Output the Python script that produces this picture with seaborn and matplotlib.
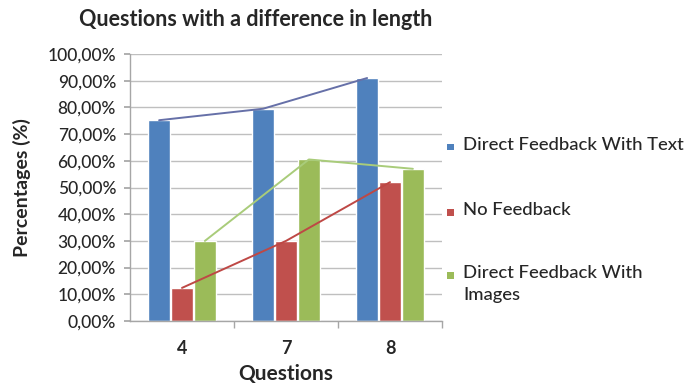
import matplotlib
matplotlib.use("Agg")
import matplotlib.pyplot as plt
from matplotlib.ticker import FuncFormatter, MultipleLocator, FixedLocator
from matplotlib.patches import Rectangle
import seaborn as sns
import pandas as pd

# Chart data
questions = ["4", "7", "8"]
series = ["Direct Feedback With Text", "No Feedback", "Direct Feedback With Images"]
text_feedback = [75.2, 79.5, 91.0]
no_feedback = [12.4, 30.0, 52.0]
image_feedback = [30.0, 60.5, 57.0]

legend_labels = ["Direct Feedback With Text", "No Feedback", "Direct Feedback With\nImages"]
bar_colors = ["#4F81BD", "#C0504D", "#9BBB59"]
line_colors = ["#6670A8", "#BE4845", "#A9CC7A"]

df = pd.DataFrame({
    "Question": questions * 3,
    "Series": [s for s in series for _ in questions],
    "Value": text_feedback + no_feedback + image_feedback,
})

sns.set_theme(style="white")
plt.rcParams["font.family"] = ["Lato", "DejaVu Sans"]

W, H = 689, 384
fig = plt.figure(figsize=(W / 100, H / 100), dpi=100)
ax = fig.add_axes([130 / W, 1 - 321 / H, 312 / W, 267 / H])

sns.barplot(data=df, x="Question", y="Value", hue="Series", order=questions,
            hue_order=series, palette=bar_colors, width=0.66, gap=0.06,
            saturation=1, errorbar=None, ax=ax, legend=False)

# Trend line through the top of each series' bars
for container, lc in zip(ax.containers, line_colors):
    xs = [b.get_x() + b.get_width() / 2 for b in container]
    ys = [b.get_height() for b in container]
    ax.plot(xs, ys, color=lc, lw=1.4, zorder=3)

ax.set_ylim(0, 100)
ax.set_xlim(-0.5, 2.5)
ax.yaxis.set_major_locator(MultipleLocator(10))
ax.yaxis.set_major_formatter(FuncFormatter(lambda v, p: f"{v:.2f}%".replace(".", ",")))
ax.grid(axis="y", color="#BFBFBF", lw=1.0)
ax.set_axisbelow(True)

for side in ["top", "right"]:
    ax.spines[side].set_visible(False)
for side in ["left", "bottom"]:
    ax.spines[side].set_color("#A6A6A6")
    ax.spines[side].set_linewidth(1.0)

ax.tick_params(axis="y", which="major", length=4, color="#A6A6A6", labelsize=12.5, pad=6,
               direction="out", left=True)
ax.tick_params(axis="x", which="major", length=0, labelsize=13, pad=14)
ax.xaxis.set_minor_locator(FixedLocator([0.5, 1.5, 2.5]))
ax.tick_params(axis="x", which="minor", length=5, color="#A6A6A6", direction="out", bottom=True)
for lbl in ax.get_yticklabels():
    lbl.set_fontweight("medium")
for lbl in ax.get_xticklabels():
    lbl.set_fontweight("bold")

ax.set_xlabel("Questions", fontsize=15, fontweight="bold", labelpad=5)
ax.set_ylabel("Percentages (%)", fontsize=14, fontweight="bold", labelpad=12)

fig.text(256 / W, 1 - 19 / H, "Questions with a difference in length",
         ha="center", va="center", fontsize=15.5, fontweight="bold")

# Legend: small colour squares with labels to the right of the plot area
legend_y = [147, 212, 275]
for lbl, c, y in zip(legend_labels, bar_colors, legend_y):
    fig.add_artist(Rectangle((447 / W, 1 - (y + 3.5) / H), 7 / W, 7 / H,
                             transform=fig.transFigure, facecolor=c, edgecolor="none"))
    fig.text(463 / W, 1 - (y - 10) / H, lbl, ha="left", va="top", fontsize=13.3,
             fontweight="medium", linespacing=1.45)

fig.savefig("out.png", dpi=100, facecolor="white")
